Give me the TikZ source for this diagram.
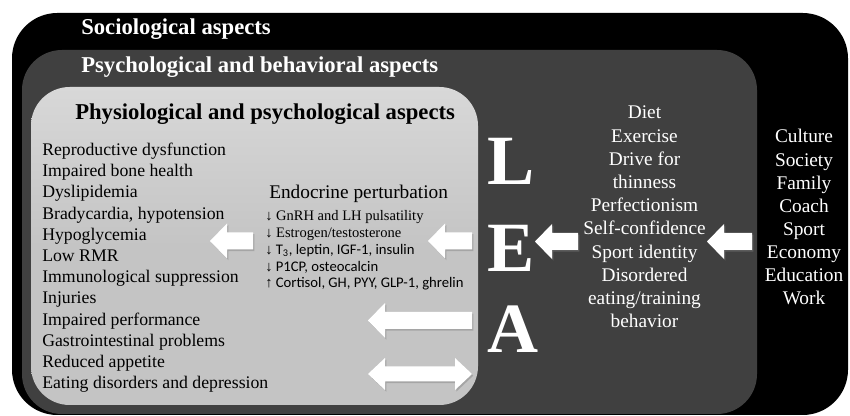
\documentclass[tikz,border=0pt]{standalone}
\usepackage{fontspec}
\setmainfont{Liberation Serif}
\newfontfamily\calib{Carlito}
\usetikzlibrary{shadows}
\definecolor{midgray}{HTML}{404040}
\definecolor{innergray}{HTML}{C4C4C4}
\definecolor{innertop}{HTML}{D8D8D8}
\newcommand\blockleft[3]{\fill[blockarrow] (#1,#2) -- ++(17,-17.5) -- ++(0,9) -- ({#3},{#2-8.5}) -- ({#3},{#2+8.5}) -- ({#1+17},{#2+8.5}) -- ++(0,9) -- cycle;}
\newcommand\dn{{\rmfamily\fontsize{10.9}{13}\selectfont ↓}}
\newcommand\upar{{\rmfamily\fontsize{10.9}{13}\selectfont ↑}}
\begin{document}
\begin{tikzpicture}[x=0.75pt,y=-0.75pt,
  blockarrow/.style={fill=white,drop shadow={shadow xshift=1pt,shadow yshift=-1.2pt,opacity=0.45}},
  txt/.style={inner sep=0pt,anchor=base west},
  ctxt/.style={inner sep=0pt,anchor=base,text=white},
  titlew/.style={txt,text=white,font=\fontsize{17}{20}\selectfont\bfseries},
  titleb/.style={txt,text=black,font=\fontsize{17}{20}\selectfont\bfseries},
  listfont/.style={font=\fontsize{13.3}{16}\selectfont},
  colfont/.style={font=\fontsize{14.5}{17}\selectfont},
  subfont/.style={font=\fontsize{10.9}{13}\selectfont},
  calfont/.style={font=\calib\fontsize{11}{13}\selectfont},
  bigletter/.style={txt,text=white,font=\fontsize{53}{58}\selectfont\bfseries}]
\useasboundingbox (0,0) rectangle (850,416);
\begin{scope}
\clip (0,0) rectangle (850,416);
% boxes
\fill[black, rounded corners=34pt] (12,13) rectangle (848,415);
\fill[midgray, rounded corners=30pt] (22,50) rectangle (757,414);
\shade[top color=innertop, bottom color=innergray, middle color=innergray, rounded corners=29pt] (31,87) rectangle (478,405);
\end{scope}
% titles
\node[titlew] (t1) at (81,35) {Sociological aspects};
\node[titlew] (t2) at (81,72.7) {Psychological and behavioral aspects};
\node[titleb] (t3) at (75,120) {Physiological and psychological aspects};
% left list
\foreach \s [count=\i from 0] in {Reproductive dysfunction,Impaired bone health,Dyslipidemia,{Bradycardia, hypotension},Hypoglycemia,Low RMR,Immunological suppression,Injuries,Impaired performance,Gastrointestinal problems,Reduced appetite,Eating disorders and depression}
  \node[txt,listfont] (left\i) at (42,{155.5+21.2*\i}) {\s};
% endocrine
\node[txt,colfont] (endo) at (269,199) {Endocrine perturbation};
\node[txt,subfont] (e1) at (265,220.7) {↓ GnRH and LH pulsatility};
\node[txt,subfont] (e2) at (265,237.5) {↓ Estrogen/testosterone};
\node[txt,calfont] (e3) at (265,254.3) {\dn{} T\textsubscript{3}, leptin, IGF-1, insulin};
\node[txt,calfont] (e4) at (265,271.1) {\dn{} P1CP, osteocalcin};
\node[txt,calfont] (e5) at (265,288) {\upar{} Cortisol, GH, PYY, GLP-1, ghrelin};
% LEA
\node[bigletter] (L) at (487,185) {L};
\node[bigletter] (E) at (487,272) {E};
\node[bigletter] (A) at (487,353) {A};
% center column
\foreach \s [count=\i from 0] in {Diet,Exercise,Drive for,thinness,Perfectionism,Self-confidence,Sport identity,Disordered,eating/training,behavior}
  \node[ctxt,colfont] (mid\i) at (644.5,{119+23.2*\i}) {\s};
% right column
\foreach \s [count=\i from 0] in {Culture,Society,Family,Coach,Sport,Economy,Education,Work}
  \node[ctxt,colfont] (soc\i) at (804,{143+23.1*\i}) {\s};
% block arrows
\blockleft{210}{241}{253}
\blockleft{428}{241}{472}
\blockleft{535}{241.5}{578}
\blockleft{707}{241.5}{752}
\blockleft{368}{320.5}{472}
\fill[blockarrow] (368,374) -- (385,358) -- (385,366.5) -- (455,366.5) -- (455,358) -- (472,374) -- (455,390) -- (455,381.5) -- (385,381.5) -- (385,390) -- cycle;
\end{tikzpicture}
\end{document}
